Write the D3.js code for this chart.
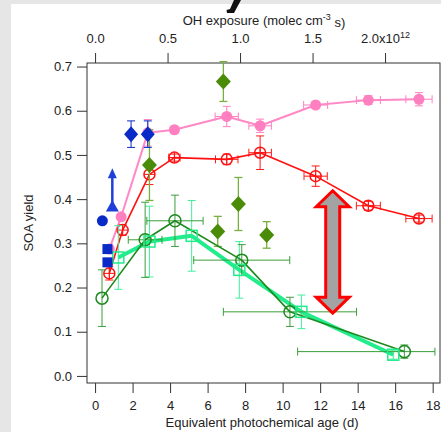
<!DOCTYPE html>
<html>
<head>
<meta charset="utf-8">
<script src="https://cdn.jsdelivr.net/npm/d3@7"></script>
<style>
  html, body { margin: 0; padding: 0; background: #e6e6e6; }
  svg { display: block; }
  text { font-family: "Liberation Sans", Arial, sans-serif; fill: #222; }
</style>
</head>
<body>
<svg id="chart" width="441" height="432"></svg>
<script>
// ---- data: photochemical age (days) vs SOA yield ----
const pinkAge   = [0.76, 1.39, 2.81, 4.23, 7.02, 8.8, 11.76, 14.57, 17.27];
const pinkYield = [0.287, 0.36, 0.55, 0.557, 0.587, 0.566, 0.613, 0.624, 0.626];
const pinkYErr  = [0, 0, 0.03, 0.008, 0.023, 0.015, 0.008, 0.01, 0.015];
const pinkXErr  = [0, 0, 0, 0, 0.62, 0.6, 0.64, 0.64, 0.7];

const redAge   = [0.76, 1.47, 2.9, 4.23, 7.02, 8.8, 11.76, 14.57, 17.27];
const redYield = [0.232, 0.33, 0.456, 0.494, 0.49, 0.505, 0.452, 0.385, 0.356];
const redYErr  = [0.015, 0.012, 0.023, 0.008, 0.012, 0.038, 0.023, 0.01, 0.008];
const redXErr  = [0, 0, 0, 0.3, 0.6, 0.6, 0.62, 0.64, 0.7];

const blueCircleAge = [0.39],  blueCircleYield = [0.351];
const blueSquareAge = [0.66, 0.66], blueSquareYield = [0.287, 0.257];
const blueTriAge = [0.92], blueTriYield = [0.382], blueTriLimit = [0.47];
const blueDiamondAge = [1.92, 2.81], blueDiamondYield = [0.547, 0.547], blueDiamondYErr = [0.03, 0.03];

const oliveAge   = [2.9, 6.54, 6.84, 7.64, 9.15];
const oliveYield = [0.477, 0.327, 0.666, 0.389, 0.319];
const oliveYErr  = [0.08, 0.034, 0.045, 0.06, 0.03];

const dgAge    = [0.37, 2.67, 4.26, 7.82, 10.39, 16.49];
const dgYield  = [0.176, 0.308, 0.351, 0.262, 0.145, 0.055];
const dgYErr   = [0.064, 0.085, 0.058, 0.035, 0.033, 0.015];
const dgXErrLo = [0, 0.9, 1.5, 2.56, 3.55, 5.69];
const dgXErrHi = [0, 0.9, 1.5, 2.56, 3.55, 1.63];

const mintAge   = [1.24, 2.9, 5.15, 7.69, 11.0, 15.9];
const mintYield = [0.268, 0.304, 0.317, 0.24, 0.145, 0.048];
const mintYErr  = [0.072, 0.08, 0.08, 0.064, 0.038, 0.01];

// range band marker (days, yield)
const bandAge = 12.67, bandTop = 0.419, bandBottom = 0.142;

const yTicks = [0, 0.1, 0.2, 0.3, 0.4, 0.5, 0.6, 0.7];
const xTicks = [0, 2, 4, 6, 8, 10, 12, 14, 16, 18];
const ohTicks = [0, 0.5, 1.0, 1.5, 2.0];
const daysPerOH = 7.73; // days per 1e12 molec cm-3 s

// ---- layout ----
const svg = d3.select("#chart");
const L = 87, R = 440, T = 63, B = 383;

svg.append("rect").attr("x", 11).attr("y", 4).attr("width", 430).attr("height", 428).attr("fill", "#fff");

// tail of the panel heading above, clipped by the frame
svg.append("path").attr("d", "M234,0L241,0L234,13L227,13L226.5,10L230,9Z").attr("fill", "#111");

const x = d3.scaleLinear().domain([-0.43, 18.39]).range([L, R]);
const y = d3.scaleLinear().domain([-0.016, 0.708]).range([B, T]);
const xTop = d3.scaleLinear().domain(x.domain().map(d => d / daysPerOH)).range([L, R]);

// ---- axes ----
function styleAxis(g) {
  g.select(".domain").remove();
  g.selectAll("line").attr("stroke", "#333");
  g.selectAll("text").style("font-size", "13px").style("fill", "#222");
}
svg.append("g").attr("transform", `translate(${L},0)`)
  .call(d3.axisLeft(y).tickValues(yTicks).tickFormat(d3.format(".1f")).tickSize(10).tickPadding(5))
  .call(styleAxis);
svg.append("g").attr("transform", `translate(0,${B})`)
  .call(d3.axisBottom(x).tickValues(xTicks).tickFormat(d3.format("d")).tickSize(10).tickPadding(8))
  .call(styleAxis);
const topAxis = svg.append("g").attr("transform", `translate(0,${T})`)
  .call(d3.axisTop(xTop).tickValues(ohTicks).tickFormat(d => d === 2 ? "" : d3.format(".1f")(d)).tickSize(10).tickPadding(10))
  .call(styleAxis);
// last top label carries the exponent
topAxis.selectAll(".tick").filter(d => d === 2).select("text").each(function () {
  const t = d3.select(this);
  t.append("tspan").text("2.0x10");
  t.append("tspan").attr("dy", "-0.6em").style("font-size", "9px").text("12");
});

svg.append("rect").attr("x", L).attr("y", T).attr("width", R - L).attr("height", B - T)
  .attr("fill", "none").attr("stroke", "#333").attr("stroke-width", 1);

// axis titles
const topTitle = svg.append("text").attr("x", 264).attr("y", 25).attr("text-anchor", "middle").style("font-size", "13px");
topTitle.append("tspan").text("OH exposure (molec cm");
topTitle.append("tspan").attr("dy", "-0.6em").style("font-size", "9px").text("-3");
topTitle.append("tspan").attr("dy", "0.6em").text(" s)");

svg.append("text").attr("x", 262).attr("y", 427).attr("text-anchor", "middle").style("font-size", "13px")
  .text("Equivalent photochemical age (d)");
svg.append("text").attr("transform", "translate(33,223) rotate(-90)").attr("text-anchor", "middle")
  .style("font-size", "13px").text("SOA yield");

// ---- helpers ----
const plot = svg.append("g");
const cap = 4;

function errorBars(ages, vals, yErr, xLo, xHi, color, width) {
  const g = plot.append("g").attr("stroke", color).attr("stroke-width", width || 1).attr("fill", "none");
  ages.forEach((a, i) => {
    const cx = x(a), cy = y(vals[i]);
    const e = yErr ? yErr[i] : 0;
    if (e > 0) {
      const y0 = y(vals[i] - e), y1 = y(vals[i] + e);
      g.append("line").attr("x1", cx).attr("x2", cx).attr("y1", y0).attr("y2", y1);
      g.append("line").attr("x1", cx - cap).attr("x2", cx + cap).attr("y1", y0).attr("y2", y0);
      g.append("line").attr("x1", cx - cap).attr("x2", cx + cap).attr("y1", y1).attr("y2", y1);
    }
    const lo = xLo ? xLo[i] : 0, hi = xHi ? xHi[i] : 0;
    if (lo > 0 || hi > 0) {
      const x0 = x(a - lo), x1 = x(a + hi);
      g.append("line").attr("x1", x0).attr("x2", x1).attr("y1", cy).attr("y2", cy);
      g.append("line").attr("x1", x0).attr("x2", x0).attr("y1", cy - cap).attr("y2", cy + cap);
      g.append("line").attr("x1", x1).attr("x2", x1).attr("y1", cy - cap).attr("y2", cy + cap);
    }
  });
}

function line(ages, vals, color, width) {
  plot.append("path")
    .attr("d", d3.line().x(d => x(d[0])).y(d => y(d[1]))(ages.map((a, i) => [a, vals[i]])))
    .attr("fill", "none").attr("stroke", color).attr("stroke-width", width).attr("stroke-linejoin", "round");
}

function diamondPath(w, h) {
  return `M0,${-h}L${w},0L0,${h}L${-w},0Z`;
}

// ---- series ----
// pink
errorBars(pinkAge, pinkYield, pinkYErr, pinkXErr, pinkXErr, "#ff80c0", 1);
line(pinkAge, pinkYield, "#ff88c6", 2);
plot.append("g").selectAll("circle").data(pinkAge).join("circle")
  .attr("cx", d => x(d)).attr("cy", (d, i) => y(pinkYield[i])).attr("r", 5.5).attr("fill", "#ff80c0");

// red
errorBars(redAge, redYield, redYErr, redXErr, redXErr, "#ff1a1a", 1);
line(redAge, redYield, "#ff1010", 1.6);
const redG = plot.append("g").attr("stroke", "#ff1010").attr("stroke-width", 1.5).attr("fill", "none");
redAge.forEach((a, i) => {
  const cx = x(a), cy = y(redYield[i]);
  redG.append("circle").attr("cx", cx).attr("cy", cy).attr("r", 5.5);
  redG.append("line").attr("x1", cx - 5.5).attr("x2", cx + 5.5).attr("y1", cy).attr("y2", cy).attr("stroke-width", 1);
  redG.append("line").attr("x1", cx).attr("x2", cx).attr("y1", cy - 5.5).attr("y2", cy + 5.5).attr("stroke-width", 1);
});

// olive diamonds
errorBars(oliveAge, oliveYield, oliveYErr, null, null, "#78b040", 1.3);
plot.append("g").selectAll("path").data(oliveAge).join("path")
  .attr("transform", (d, i) => `translate(${x(d)},${y(oliveYield[i])})`)
  .attr("d", diamondPath(7.5, 8)).attr("fill", "#4a8c08");

// mint squares with thick line
errorBars(mintAge, mintYield, mintYErr, null, null, "#40ee9a", 1);
line(mintAge, mintYield, "#22ec8c", 4);

// dark green circles
errorBars(dgAge, dgYield, dgYErr, dgXErrLo, dgXErrHi, "#3a9e3a", 1);
line(dgAge, dgYield, "#1e8a1e", 1.6);
plot.append("g").selectAll("circle").data(dgAge).join("circle")
  .attr("cx", d => x(d)).attr("cy", (d, i) => y(dgYield[i])).attr("r", 6)
  .attr("fill", "none").attr("stroke", "#1e8a1e").attr("stroke-width", 1.5);

plot.append("g").selectAll("rect").data(mintAge).join("rect")
  .attr("x", d => x(d) - 5.5).attr("y", (d, i) => y(mintYield[i]) - 5.5)
  .attr("width", 11).attr("height", 11)
  .attr("fill", "none").attr("stroke", "#22ec8c").attr("stroke-width", 1.5);

// blue
const blue = "#0a2ac8";
errorBars(blueDiamondAge, blueDiamondYield, blueDiamondYErr, null, null, blue, 1);
plot.append("g").selectAll("path").data(blueDiamondAge).join("path")
  .attr("transform", (d, i) => `translate(${x(d)},${y(blueDiamondYield[i])})`)
  .attr("d", diamondPath(7, 8)).attr("fill", blue);
plot.append("g").selectAll("circle").data(blueCircleAge).join("circle")
  .attr("cx", d => x(d)).attr("cy", (d, i) => y(blueCircleYield[i])).attr("r", 5.5).attr("fill", blue);
plot.append("g").selectAll("rect").data(blueSquareAge).join("rect")
  .attr("x", d => x(d) - 5).attr("y", (d, i) => y(blueSquareYield[i]) - 5)
  .attr("width", 10).attr("height", 10).attr("fill", blue);
blueTriAge.forEach((a, i) => {
  const cx = x(a), cy = y(blueTriYield[i]), tip = y(blueTriLimit[i]);
  plot.append("line").attr("x1", cx).attr("x2", cx).attr("y1", cy).attr("y2", tip + 8)
    .attr("stroke", "#1e40d8").attr("stroke-width", 2.5);
  plot.append("path").attr("d", `M${cx},${tip}L${cx + 4.5},${tip + 10}L${cx - 4.5},${tip + 10}Z`).attr("fill", "#1e40d8");
  plot.append("path").attr("d", `M${cx},${cy - 7}L${cx + 6.5},${cy + 4.5}L${cx - 6.5},${cy + 4.5}Z`).attr("fill", "#1e40d8");
});

// grey double-headed range arrow
{
  const cx = x(bandAge), yt = y(bandTop), yb = y(bandBottom);
  const sw = 7, hw = 16.5, hh = 16;
  const p = `M${cx},${yt}L${cx + hw},${yt + hh}L${cx + sw},${yt + hh}L${cx + sw},${yb - hh}L${cx + hw},${yb - hh}` +
            `L${cx},${yb}L${cx - hw},${yb - hh}L${cx - sw},${yb - hh}L${cx - sw},${yt + hh}L${cx - hw},${yt + hh}Z`;
  plot.append("path").attr("d", p).attr("fill", "#a3a3a3").attr("stroke", "#ff0000")
    .attr("stroke-width", 3).attr("stroke-linejoin", "miter");
}
</script>
</body>
</html>
